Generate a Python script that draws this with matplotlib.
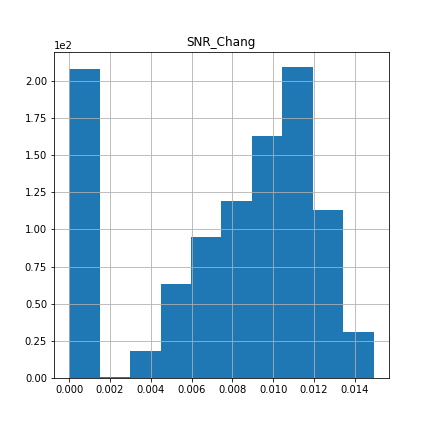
import numpy as np
import matplotlib
matplotlib.use('Agg')
import matplotlib.pyplot as plt

# histogram of SNR_Chang, counts
bin_lo = 0.0
bin_hi = 0.01493
counts = [208, 1, 18, 63, 95, 119, 163, 209, 113, 31]

edges = np.linspace(bin_lo, bin_hi, len(counts) + 1)

fig, ax = plt.subplots(figsize=(6, 6), dpi=72)
fig.subplots_adjust(left=0.125, right=0.9, top=0.88, bottom=0.125)

ax.hist(edges[:-1], bins=edges, weights=counts, color='#1f77b4')
ax.grid(True)
ax.set_title('SNR_Chang')
ax.ticklabel_format(axis='y', style='sci', scilimits=(0, 0))

plt.savefig('out.png', dpi=72)
